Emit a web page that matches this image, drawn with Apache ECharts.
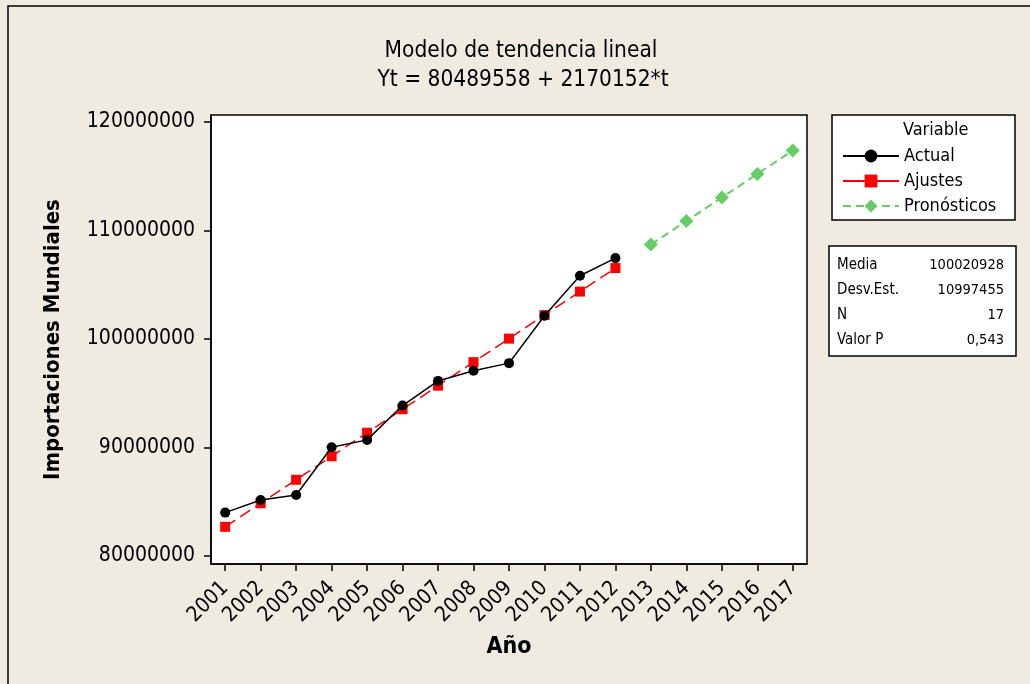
<!DOCTYPE html>
<html><head><meta charset="utf-8">
<script src="https://cdn.jsdelivr.net/npm/echarts@6/dist/echarts.min.js"></script>
<style>html,body{margin:0;padding:0;background:#EFEBE1}#c{width:1030px;height:684px}</style>
</head><body><div id="c"></div>
<script>
const years = [2001,2002,2003,2004,2005,2006,2007,2008,2009,2010,2011,2012,2013,2014,2015,2016,2017];
const actualYears = [2001,2002,2003,2004,2005,2006,2007,2008,2009,2010,2011,2012];
const actualValues = [83970000,85140000,85600000,90000000,90680000,93850000,96120000,97050000,97760000,102130000,105820000,107450000];
const fittedValues = [82660000,84830000,87000000,89170000,91340000,93510000,95680000,97850000,100020000,102190000,104360000,106530000];
const forecastYears = [2013,2014,2015,2016,2017];
const forecastValues = [108700000,110870000,113040000,115210000,117380000];
const yTicks = [80000000,90000000,100000000,110000000,120000000];
const titleLines = ['Modelo de tendencia lineal','Yt = 80489558 + 2170152*t'];
const seriesNames = ['Actual','Ajustes','Pronósticos'];
const statsLabels = ['Media','Desv.Est.','N','Valor P'];
const statsValues = ['100020928','10997455','17','0,543'];

const FF = "'DejaVu Sans Condensed','DejaVu Sans',sans-serif";
const pair = (xs, vs) => xs.map((x,i)=>[x, vs[i]]);

const graphics = [
  {type:'rect', shape:{x:8,y:6,width:1200,height:900}, style:{fill:'none',stroke:'#000',lineWidth:1.5}, z:-10},
  {type:'text', x:521, y:51, style:{text:titleLines[0], font:'22.5px '+FF, fill:'#000', textAlign:'center', textVerticalAlign:'middle'}},
  {type:'text', x:523, y:80, style:{text:titleLines[1], font:'22.5px '+FF, fill:'#000', textAlign:'center', textVerticalAlign:'middle'}},
  {type:'rect', shape:{x:832,y:115,width:183,height:105}, style:{fill:'#fff',stroke:'#000',lineWidth:1.5}},
  {type:'text', x:903, y:130, style:{text:'Variable', font:'18px '+FF, fill:'#000', textAlign:'left', textVerticalAlign:'middle'}},
  {type:'rect', shape:{x:829,y:246,width:187,height:110}, style:{fill:'#fff',stroke:'#000',lineWidth:1.5}}
];
const rowsY = [265,290,315,340];
statsLabels.forEach((s,i)=>{
  graphics.push({type:'text', x:837, y:rowsY[i], style:{text:s, font:'15px '+FF, fill:'#000', textAlign:'left', textVerticalAlign:'middle'}});
  graphics.push({type:'text', x:1004, y:rowsY[i], style:{text:statsValues[i], font:'14.5px '+FF, fill:'#000', textAlign:'right', textVerticalAlign:'middle'}});
});

const chart = echarts.init(document.getElementById('c'));
chart.setOption({
  animation:false,
  backgroundColor:'#EFEBE1',
  textStyle:{fontFamily:FF, color:'#000'},
  grid:{left:211, top:115, width:596, height:449, show:true, backgroundColor:'#fff', borderColor:'#000', borderWidth:1.5},
  xAxis:{
    type:'value', min:2000.6, max:2017.4,
    name:'Año', nameLocation:'middle', nameGap:72,
    nameTextStyle:{fontSize:23, fontWeight:'bold', color:'#000', fontFamily:FF},
    axisLine:{show:true, lineStyle:{color:'#000', width:1.5}},
    axisTick:{show:true, customValues:years, length:7, lineStyle:{color:'#000', width:1.5}},
    axisLabel:{customValues:years, rotate:45, margin:21, fontSize:21, color:'#000', fontFamily:FF, formatter:v=>String(v)},
    splitLine:{show:false}
  },
  yAxis:{
    type:'value', min:79230000, max:120650000,
    name:'Importaciones Mundiales', nameLocation:'middle', nameGap:147,
    nameTextStyle:{fontSize:22, fontWeight:'bold', color:'#000', fontFamily:FF},
    axisLine:{show:true, lineStyle:{color:'#000', width:1.5}},
    axisTick:{show:true, customValues:yTicks, length:7, lineStyle:{color:'#000', width:1.5}},
    axisLabel:{customValues:yTicks, margin:16, fontSize:21, color:'#000', fontFamily:FF, formatter:v=>String(v)},
    splitLine:{show:false}
  },
  legend:{
    orient:'vertical', left:837, top:141, itemWidth:56, itemHeight:16, itemGap:5,
    selectedMode:false,
    data:[{name:seriesNames[0]},{name:seriesNames[1], lineStyle:{type:'solid'}},{name:seriesNames[2]}],
    textStyle:{fontSize:18, lineHeight:20, color:'#000', fontFamily:FF}
  },
  graphic:graphics,
  series:[
    {name:seriesNames[0], type:'line', data:pair(actualYears, actualValues), symbol:'circle', symbolSize:10,
     itemStyle:{color:'#000'}, lineStyle:{color:'#000', width:1.5, type:'solid'}, z:4},
    {name:seriesNames[1], type:'line', data:pair(actualYears, fittedValues), symbol:'rect', symbolSize:10,
     itemStyle:{color:'#FF0000'}, lineStyle:{color:'#FF0000', width:1.5, type:[12,6]}, z:3},
    {name:seriesNames[2], type:'line', data:pair(forecastYears, forecastValues), symbol:'diamond', symbolSize:14,
     itemStyle:{color:'#66CC66'}, lineStyle:{color:'#66CC66', width:2, type:[8,5]}, z:3}
  ]
});
</script></body></html>
